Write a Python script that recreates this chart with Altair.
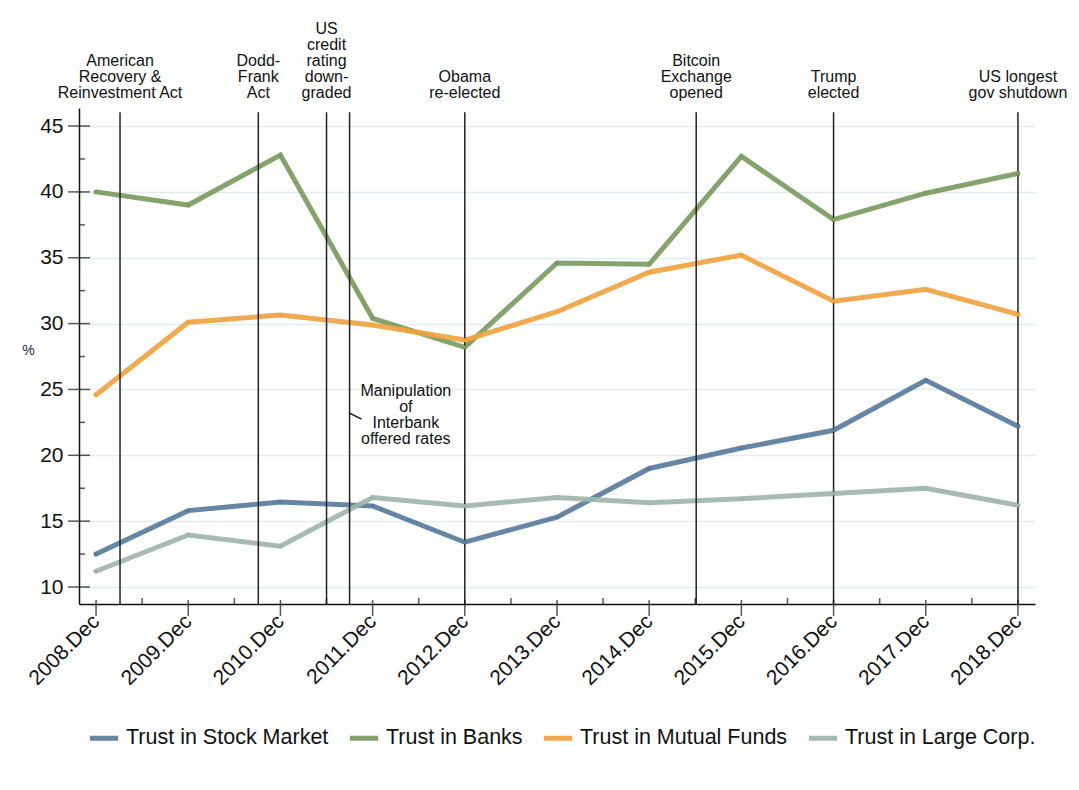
import altair as alt
import pandas as pd

periods = ["2008.Dec", "2009.Dec", "2010.Dec", "2011.Dec", "2012.Dec", "2013.Dec",
           "2014.Dec", "2015.Dec", "2016.Dec", "2017.Dec", "2018.Dec"]
stock = [12.5, 15.8, 16.45, 16.15, 13.4, 15.3, 19.0, 20.55, 21.9, 25.7, 22.2]
banks = [40.0, 39.0, 42.8, 30.4, 28.2, 34.6, 34.5, 42.7, 37.9, 39.9, 41.4]
mutual = [24.6, 30.1, 30.65, 29.9, 28.75, 30.9, 33.9, 35.2, 31.7, 32.6, 30.7]
large = [11.2, 13.95, 13.1, 16.8, 16.15, 16.8, 16.4, 16.7, 17.1, 17.5, 16.2]

series_names = ["Trust in Stock Market", "Trust in Banks", "Trust in Mutual Funds", "Trust in Large Corp."]
series_colors = ["#5a7c9c", "#7b9b60", "#f0a340", "#a0b5ac"]

event_pos = [0.26, 1.76, 2.5, 2.75, 4.0, 6.51, 8.0, 10.0]
event_labels = ["American\nRecovery &\nReinvestment Act", "Dodd-\nFrank\nAct",
                "US\ncredit\nrating\ndown-\ngraded", "", "Obama\nre-elected",
                "Bitcoin\nExchange\nopened", "Trump\nelected", "US longest\ngov shutdown"]

note_text = ["Manipulation\nof\nInterbank\noffered rates"]
note_x = [3.36]
note_y = [24.9]
leader_x = [2.75]
leader_x2 = [2.88]
leader_y = [23.2]
leader_y2 = [22.75]

y_major = [10, 15, 20, 25, 30, 35, 40, 45]
y_minor = [12.5, 17.5, 22.5, 27.5, 32.5, 37.5, 42.5]
x_major = list(range(11))
x_minor = [i + 0.5 for i in range(10)]

rows = []
for name, vals in zip(series_names, [stock, banks, mutual, large]):
    for i, v in enumerate(vals):
        rows.append({"idx": i, "period": periods[i], "series": name, "value": v})
df = pd.DataFrame(rows)

events = pd.DataFrame({"pos": event_pos, "label": event_labels})
note = pd.DataFrame({"x": note_x, "y": note_y, "text": note_text})
leader = pd.DataFrame({"x": leader_x, "x2": leader_x2, "y": leader_y, "y2": leader_y2})

xscale = alt.Scale(domain=[-0.185, 10.185], nice=False, zero=False)
yscale = alt.Scale(domain=[8.71, 46.37], nice=False, zero=False)
label_js = "[" + ",".join("'" + p + "'" for p in periods) + "]"

x_axis = alt.Axis(values=x_major, labelExpr=label_js + "[datum.value]", labelAngle=-45,
                  labelAlign="right", labelBaseline="middle", labelPadding=14,
                  labelFontSize=21, labelColor="#111", ticks=False, grid=False,
                  domainColor="#111", domainWidth=1.5, title=None)
y_axis = alt.Axis(values=y_major, labelFontSize=21, labelColor="#111", labelPadding=16,
                  ticks=False, grid=True, gridColor="#e4edee", gridWidth=1.5,
                  domainColor="#111", domainWidth=1.5, title="%", titleAngle=0,
                  titleFontSize=14, titleFontWeight="normal", titleColor="#1a2640",
                  titleX=-51, titleY=249, titleAlign="center")

color = alt.Color("series:N", scale=alt.Scale(domain=series_names, range=series_colors),
                  legend=alt.Legend(title=None, orient="none", direction="horizontal",
                                    legendX=8, legendY=613, columns=4,
                                    symbolType="stroke", symbolSize=800,
                                    symbolStrokeWidth=5, labelFontSize=21.5,
                                    labelLimit=0, labelOffset=5, columnPadding=10,
                                    labelColor="#111", padding=0))

base = alt.Chart(df)

lines = base.mark_line(strokeWidth=5, opacity=0.92, strokeCap="round").encode(
    x=alt.X("idx:Q", scale=xscale, axis=x_axis),
    y=alt.Y("value:Q", scale=yscale, axis=y_axis),
    color=color,
    order="idx:Q",
)
points = base.mark_point(filled=True, size=18, opacity=1).encode(
    x=alt.X("idx:Q", scale=xscale), y=alt.Y("value:Q", scale=yscale),
    color=alt.Color("series:N", scale=alt.Scale(domain=series_names, range=series_colors), legend=None),
)

rules = alt.Chart(events).mark_rule(color="#222", strokeWidth=1.5).encode(
    x=alt.X("pos:Q", scale=xscale),
    y=alt.Y(datum=46.05, scale=yscale),
    y2=alt.Y2(datum=8.71),
)
event_text = alt.Chart(events).transform_calculate(
    ypix="-7 - (length(split(datum.label, '\\n')) - 1) * 16"
).mark_text(fontSize=16, lineHeight=16, baseline="bottom",
            align="center", lineBreak="\n", color="#111", clip=False).encode(
    x=alt.X("pos:Q", scale=xscale),
    y=alt.Y("ypix:Q", scale=None),
    text="label:N",
)
note_mark = alt.Chart(note).mark_text(fontSize=16, lineHeight=16, baseline="middle",
                                      align="center", lineBreak="\n", color="#111").encode(
    x=alt.X("x:Q", scale=xscale), y=alt.Y("y:Q", scale=yscale), text="text:N")
leader_mark = alt.Chart(leader).mark_rule(color="#111", strokeWidth=1.3).encode(
    x=alt.X("x:Q", scale=xscale), x2="x2:Q", y=alt.Y("y:Q", scale=yscale), y2="y2:Q")

ymaj = alt.Chart(pd.DataFrame({"v": y_major})).mark_tick(orient="horizontal", thickness=1.5, color="#111").encode(
    y=alt.Y("v:Q", scale=yscale), x=alt.value(0), size=alt.value(22))
ymin = alt.Chart(pd.DataFrame({"v": y_minor})).mark_tick(orient="horizontal", thickness=1.5, color="#111").encode(
    y=alt.Y("v:Q", scale=yscale), x=alt.value(3), size=alt.value(6))
xmaj = alt.Chart(pd.DataFrame({"v": x_major})).mark_tick(orient="vertical", thickness=1.5, color="#111").encode(
    x=alt.X("v:Q", scale=xscale), y=alt.value(500), size=alt.value(16))
xmin = alt.Chart(pd.DataFrame({"v": x_minor})).mark_tick(orient="vertical", thickness=1.5, color="#111").encode(
    x=alt.X("v:Q", scale=xscale), y=alt.value(493), size=alt.value(6))

chart = alt.layer(lines, rules, event_text, note_mark, leader_mark, ymaj, ymin, xmaj, xmin, points).properties(
    width=956, height=496,
    autosize=alt.AutoSizeParams(type="none"),
    padding={"left": 71, "top": 100, "right": 36, "bottom": 165},
).configure(font="Liberation Sans").configure_view(stroke=None)

chart.save("out.html", embed_options={"renderer": "svg", "actions": False})
